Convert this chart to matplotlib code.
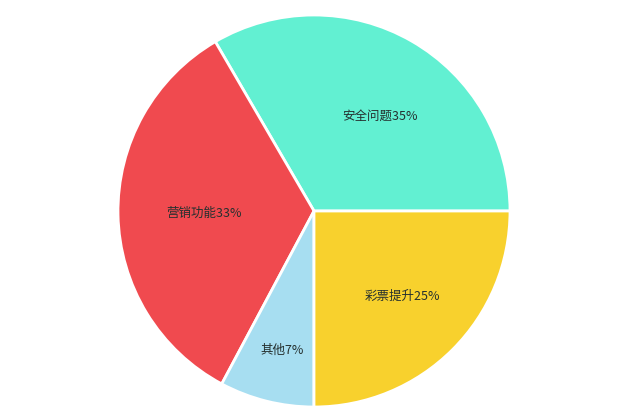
import numpy as np
import matplotlib
matplotlib.use('Agg')
import matplotlib.pyplot as plt

plt.rcParams['font.family'] = ['Noto Sans CJK SC', 'DejaVu Sans']

# slices, counter-clockwise from 3 o'clock
categories = ['安全问题', '营销功能', '其他', '彩票提升']
label_pct = ['35%', '33%', '7%', '25%']
values = [33.4, 33.8, 7.8, 25.0]
colors = ['#62f0d2', '#f04a4f', '#a7def1', '#f8d12d']

# label placement: fraction of radius and angle nudge (deg)
label_r = [0.59, 0.56, 0.73, 0.63]
label_da = [-5, 0, 1, 1]

fig = plt.figure(figsize=(6.43, 4.16), dpi=100)
fig.patch.set_facecolor('white')
ax = fig.add_axes([0, 0, 1, 1])
ax.set_xlim(0, 643)
ax.set_ylim(0, 416)
ax.set_aspect('equal')
ax.axis('off')

cx, cy, R = 314, 205, 196
wedges, _ = ax.pie(values, colors=colors, startangle=0, counterclock=True,
                   center=(cx, cy), radius=R,
                   wedgeprops=dict(edgecolor='white', linewidth=2))

for w, cat, pct, f, da in zip(wedges, categories, label_pct, label_r, label_da):
    mid = np.deg2rad((w.theta1 + w.theta2) / 2 + da)
    x = cx + f * R * np.cos(mid)
    y = cy + f * R * np.sin(mid)
    ax.text(x, y, cat + pct, ha='center', va='center', fontsize=9,
            fontweight='medium', color='#25302f')

ax.set_xlim(0, 643)
ax.set_ylim(0, 416)
fig.savefig('out.png', dpi=100)
